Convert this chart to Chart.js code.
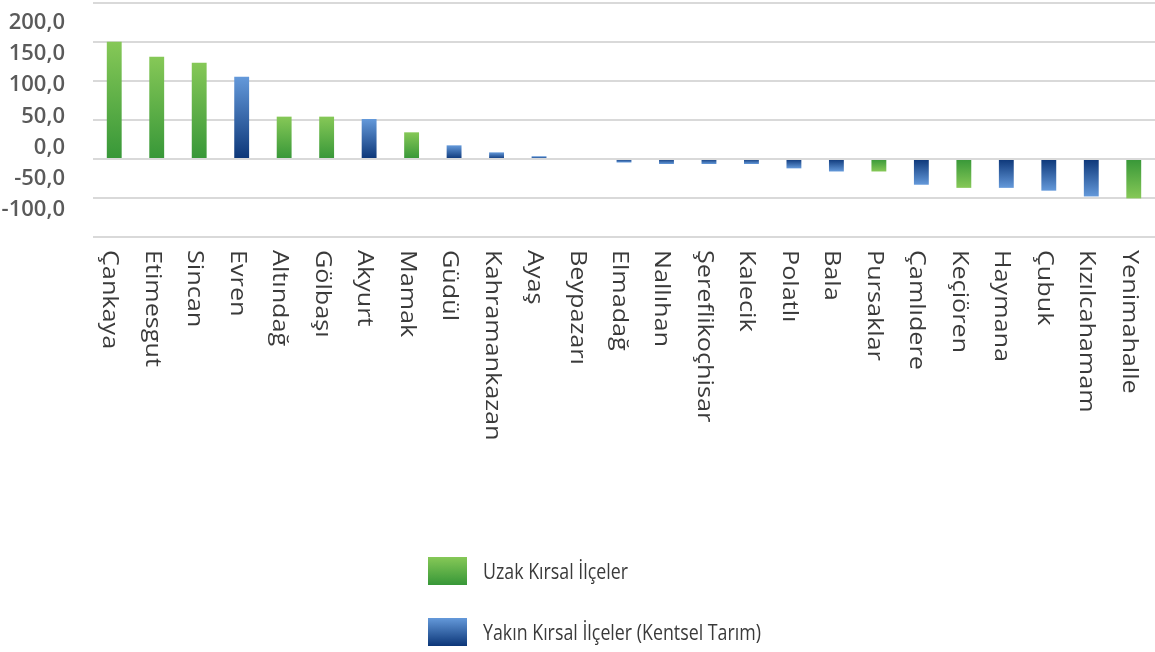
<!DOCTYPE html>
<html lang="tr">
<head>
<meta charset="utf-8">
<title>İlçeler</title>
<script src="https://cdn.jsdelivr.net/npm/chart.js"></script>
<style>
  body { margin: 0; background: #fff; }
  #wrap { position: relative; width: 1155px; height: 652px; }
  #legend { position: absolute; left: 428px; top: 557px; font-family: "Open Sans", sans-serif; font-size: 20px; color: #3a3a3a; }
  .item { display: flex; align-items: center; height: 28px; margin-bottom: 33px; white-space: nowrap; }
  .box { width: 39px; height: 28px; margin-right: 16px; flex: none; }
  .txt { display: inline-block; transform-origin: left center; transform: scale(0.89, 1.06); }
</style>
</head>
<body>
<div id="wrap">
  <canvas id="myChart" width="1155" height="652"></canvas>
  <div id="legend"></div>
</div>
<script>
const categories = ['Çankaya', 'Etimesgut', 'Sincan', 'Evren', 'Altındağ', 'Gölbaşı', 'Akyurt', 'Mamak', 'Güdül',
  'Kahramankazan', 'Ayaş', 'Beypazarı', 'Elmadağ', 'Nallıhan', 'Şereflikoçhisar', 'Kalecik', 'Polatlı', 'Bala',
  'Pursaklar', 'Çamlıdere', 'Keçiören', 'Haymana', 'Çubuk', 'Kızılcahamam', 'Yenimahalle'];

// Uzak Kırsal İlçeler (green)
const uzakValues = [150.4, 131, 123.5, null, 54.3, 54.3, null, 34.2, null,
  null, null, 0, null, null, null, null, null, null,
  -16, null, -37, null, null, null, -50.5];

// Yakın Kırsal İlçeler (blue)
const yakinValues = [null, null, null, 105.5, null, null, 51.3, null, 17.5,
  8.5, 3.5, null, -4.5, -6.4, -6.4, -6.4, -12, -16,
  null, -33, null, -37, -40.6, -48, null];

const yTicks = [-100, -50, 0, 50, 100, 150, 200];

const green = { light: '#86c857', dark: '#379738' };
const blue = { light: '#6499da', dark: '#0c3678' };

// gradient dark at the zero line, light at the bar tip
function barFill(c, col) {
  const chart = c.chart;
  if (!chart.chartArea || c.type !== 'data' || c.raw === null) return col.dark;
  const y = chart.scales.y;
  const y0 = y.getPixelForValue(0);
  const y1 = y.getPixelForValue(c.raw);
  if (Math.abs(y1 - y0) < 1) return col.dark;
  const g = chart.ctx.createLinearGradient(0, y0, 0, y1);
  g.addColorStop(0, col.dark);
  g.addColorStop(1, col.light);
  return g;
}

const xLabels = {
  id: 'xLabels',
  afterDraw(chart) {
    const { ctx, scales: { x } } = chart;
    ctx.save();
    ctx.font = '21px "Open Sans"';
    ctx.fillStyle = '#3a3a3a';
    ctx.textAlign = 'left';
    ctx.textBaseline = 'alphabetic';
    categories.forEach((label, i) => {
      ctx.save();
      ctx.translate(x.getPixelForValue(i) - 11, 250);
      ctx.rotate(Math.PI / 2);
      ctx.scale(1.2, 1);
      ctx.fillText(label, 0, 0);
      ctx.restore();
    });
    ctx.restore();
  }
};

const ctx = document.getElementById('myChart');

const chart = new Chart(ctx, {
  type: 'bar',
  data: {
    labels: categories,
    datasets: [{
      label: 'Uzak Kırsal İlçeler',
      data: uzakValues,
      yAxisID: 'y',
      backgroundColor: c => barFill(c, green),
      legendColor: green
    }, {
      label: 'Yakın Kırsal İlçeler (Kentsel Tarım)',
      data: yakinValues,
      yAxisID: 'y',
      backgroundColor: c => barFill(c, blue),
      legendColor: blue
    }]
  },
  options: {
    responsive: false,
    animation: false,
    barPercentage: 0.35,
    categoryPercentage: 1,
    layout: { padding: { top: 3, right: -5 } },
    plugins: {
      legend: { display: false },
      tooltip: { enabled: false }
    },
    scales: {
      x: {
        stacked: true,
        grid: { display: false },
        border: { display: false },
        ticks: { display: false },
        afterFit: s => { s.height = 415; s.paddingLeft = 0; s.paddingRight = 0; }
      },
      y: {
        stacked: true,
        min: -100,
        max: 200,
        ticks: { display: false, stepSize: 50 },
        grid: { color: '#d9d9d9', lineWidth: 2, drawTicks: false },
        border: { display: false },
        afterFit: s => { s.width = 0; s.paddingTop = 0; s.paddingBottom = 0; }
      },
      // tick labels sit slightly off the gridlines in the original
      yl: {
        position: 'left',
        min: -143.3,
        max: 231.6,
        grid: { display: false },
        border: { display: false },
        afterBuildTicks: s => { s.ticks = yTicks.map(v => ({ value: v })); },
        ticks: {
          padding: 20,
          color: '#5a5a5a',
          font: { family: 'Open Sans', size: 22, weight: '600' },
          callback: v => v.toFixed(1).replace('.', ',')
        },
        afterFit: s => { s.width = 93; s.paddingTop = 0; s.paddingBottom = 0; }
      }
    }
  },
  plugins: [xLabels]
});

// legend list built from the datasets
const legend = document.getElementById('legend');
chart.data.datasets.forEach(ds => {
  const item = document.createElement('div');
  item.className = 'item';
  const box = document.createElement('span');
  box.className = 'box';
  box.style.background = 'linear-gradient(' + ds.legendColor.light + ', ' + ds.legendColor.dark + ')';
  const txt = document.createElement('span');
  txt.className = 'txt';
  txt.textContent = ds.label;
  item.appendChild(box);
  item.appendChild(txt);
  legend.appendChild(item);
});
</script>
</body>
</html>
